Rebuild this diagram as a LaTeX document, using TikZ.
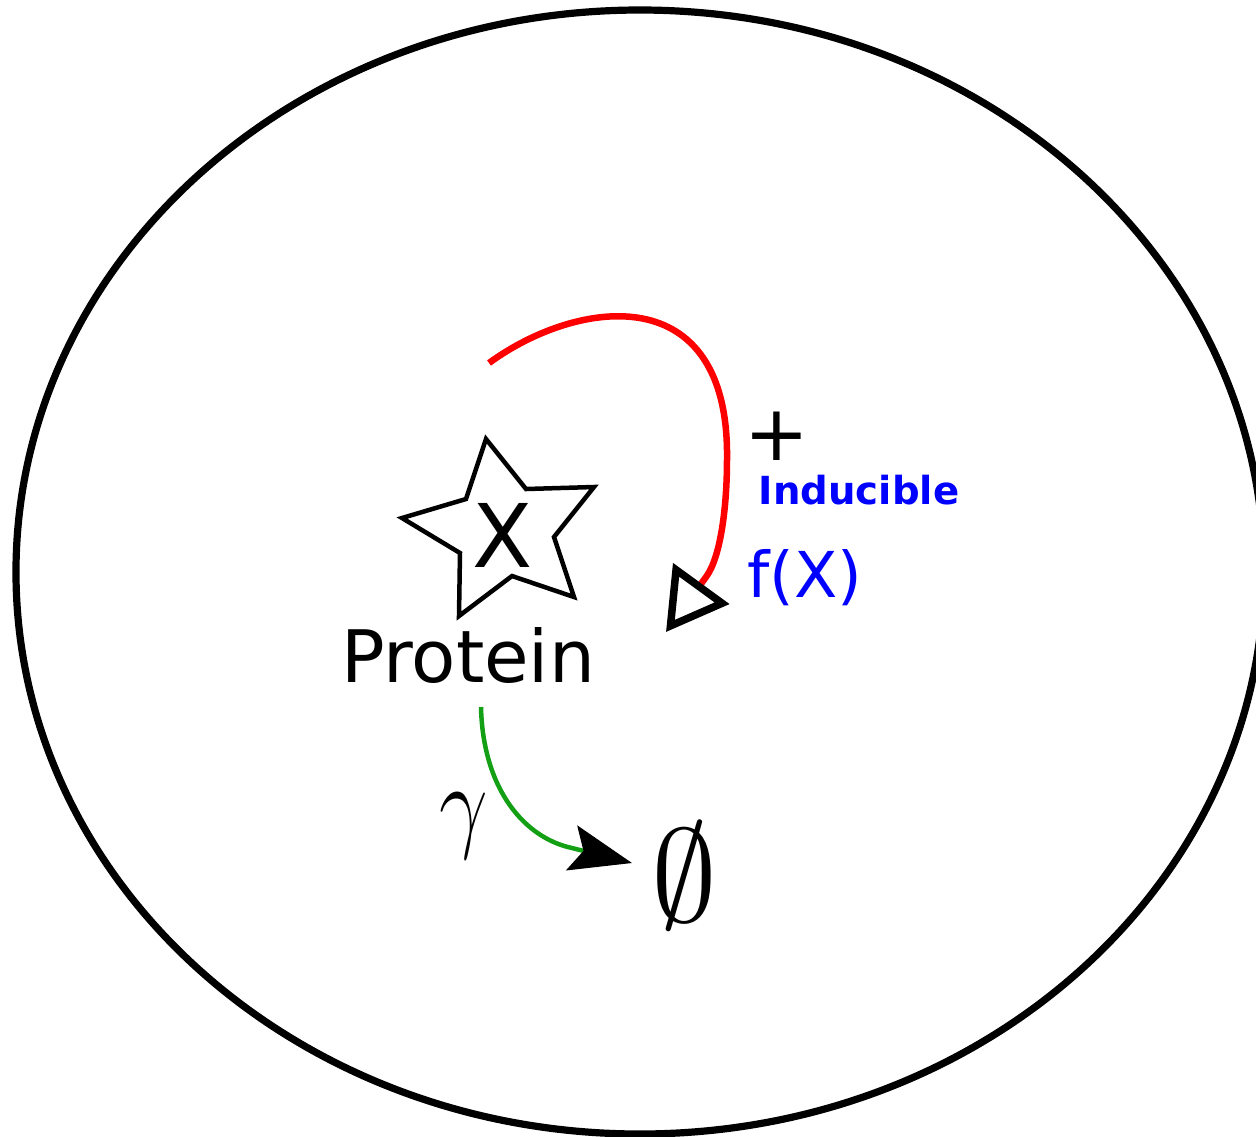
\RequirePackage{fix-cm}
\documentclass[tikz,border=0pt]{standalone}
\usepackage{amsmath,amssymb}
\usepackage{fontspec}
\setmainfont{DejaVu Sans}
\usetikzlibrary{positioning,calc}
\usetikzlibrary{arrows.meta}
\definecolor{ActRed}{RGB}{255,0,0}
\definecolor{DegGreen}{RGB}{20,160,20}
\definecolor{LabBlue}{RGB}{0,0,255}
\tikzset{
	cell/.style={draw=black,line width=0.072cm},
	starline/.style={draw=black,line width=0.045cm},
	act/.style={draw=ActRed,line width=0.065cm,
		-{Triangle[open,length=6mm,width=6.8mm,line width=0.075cm,color=black]}},
	deg/.style={draw=DegGreen,line width=0.045cm,
		-{Stealth[length=6.2mm,width=4.6mm,inset=1.2mm,color=black]}},
	lab/.style={inner sep=0pt,anchor=base},
}

\begin{document}
\begin{tikzpicture}
			\useasboundingbox (-6.40,5.72) rectangle (6.16,-5.64);
			\clip (-6.40,5.72) rectangle (6.16,-5.64);
			\draw[cell] (0,0) ellipse [x radius=6.24,y radius=5.62];
			\draw[starline] (-1.54,1.33) -- (-1.14,0.83) -- (-0.46,0.85) -- (-0.86,0.35)
				-- (-0.66,-0.25) -- (-1.28,-0.04) -- (-1.81,-0.44) -- (-1.80,0.19)
				-- (-2.38,0.54) -- (-1.74,0.73) -- cycle;
			\node[lab,font=\fontsize{25}{30}\selectfont] (x) at (-1.37,0.05) {X};
			\node[lab,font=\fontsize{20.6}{24}\selectfont] (protein) at (-1.72,-1.10) {Protein};
			\node[lab,text=LabBlue,font=\fontsize{18}{21}\selectfont] (fx) at (1.65,-0.25) {f(X)};
			\node[lab,font=\fontsize{22}{26}\selectfont] (plus) at (1.37,1.12) {+};
			\node[lab,text=LabBlue,font=\bfseries\fontsize{11}{13}\selectfont] (ind) at (2.19,0.68) {Inducible};
			\node[lab,font=\fontsize{30}{34}\selectfont] (gam) at (-1.76,-2.66) {\scalebox{0.82}[1]{$\gamma$}};
			\node[lab,font=\fontsize{37.5}{42}\selectfont] (phi) at (0.445,-3.49) {$\emptyset$};
			\coordinate (r0) at (-1.51,2.09);
			\coordinate (r1) at (0.87,1.12);
			\coordinate (r2) at (0.66,-0.05);
			\coordinate (r3) at (0.26,-0.60);
			\draw[act] (r0) .. controls (-0.62,2.74) and (0.90,2.95) .. (r1)
				.. controls (0.87,0.67) and (0.81,0.15) .. (r2) -- (r3);
			\coordinate (g0) at (-1.59,-1.35);
			\coordinate (g1) at (-0.68,-2.76);
			\coordinate (g2) at (-0.08,-2.91);
			\draw[deg] (g0) .. controls (-1.57,-2.18) and (-1.15,-2.66) .. (g1) -- (g2);
		\end{tikzpicture}
\end{document}
